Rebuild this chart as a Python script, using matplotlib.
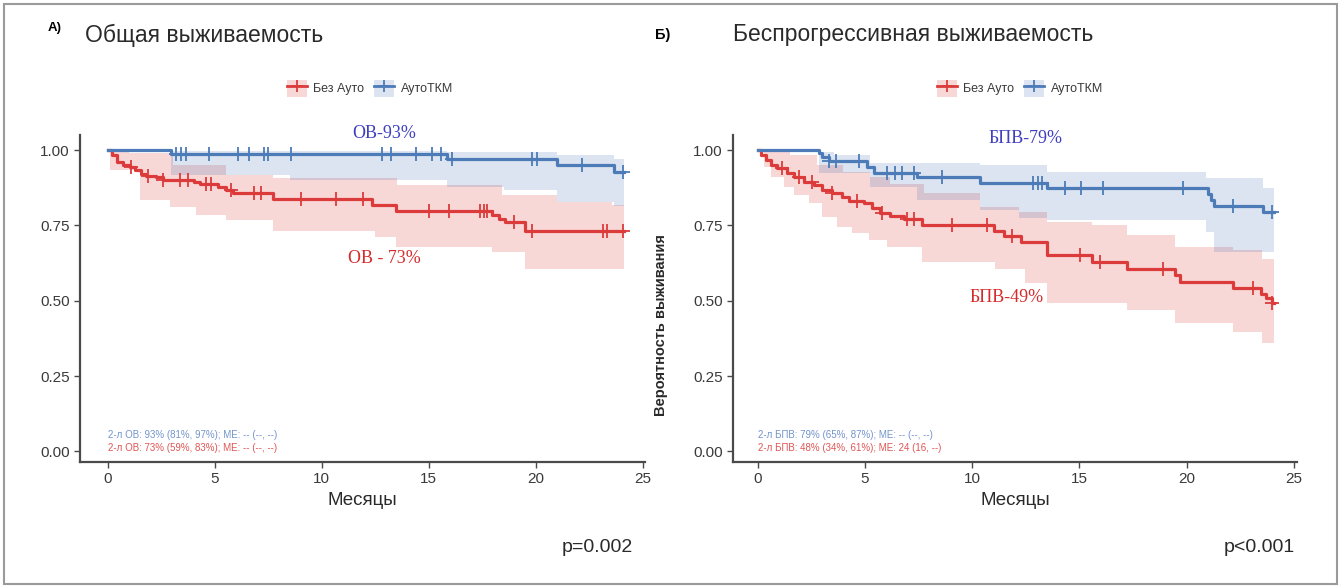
"""Kaplan-Meier curves: overall and progression-free survival, AutoTKM vs no Auto."""

import numpy as np
import matplotlib
matplotlib.use("Agg")
import matplotlib.pyplot as plt
from matplotlib.lines import Line2D
from matplotlib.patches import Patch, Rectangle

plt.rcParams["font.family"] = ["Liberation Sans", "DejaVu Sans"]

RED = "#DC3B3B"
BLUE = "#4C7BB8"
GROUPS = ["Без Ауто", "АутоТКМ"]

# --- A) overall survival -------------------------------------------------
os_ref_t = [0, 0.2, 0.45, 0.7, 1.03, 1.26, 1.57, 1.8, 2.27, 2.58, 4.05, 4.29, 4.9, 5.14,
            5.53, 5.84, 7.7, 12.36, 13.45, 17.95, 18.27, 18.58, 19.51, 24.1]
os_ref_s = [1.0, 0.983, 0.961, 0.95, 0.944, 0.933, 0.922, 0.913, 0.909, 0.902, 0.894, 0.889,
            0.886, 0.878, 0.869, 0.856, 0.836, 0.817, 0.798, 0.783, 0.772, 0.761, 0.733, 0.733]
os_ref_cens = [1.1, 1.88, 2.58, 3.36, 3.74, 4.6, 4.83, 5.76, 6.85, 7.16, 9.02, 10.66, 11.9,
               15.0, 15.94, 17.41, 17.57, 17.72, 18.97, 19.82, 23.16, 23.31, 24.09]
os_ref_lo_t = [0, 0.1, 1.49, 2.89, 4.14, 5.53, 7.71, 12.5, 13.45, 17.95, 19.51, 24.1]
os_ref_lo = [1.0, 0.933, 0.833, 0.811, 0.783, 0.767, 0.733, 0.711, 0.678, 0.661, 0.606, 0.606]
os_ref_hi_t = [0, 1.0, 3.04, 5.53, 7.71, 13.53, 18.43, 20.99, 23.55, 24.1]
os_ref_hi = [1.0, 0.99, 0.95, 0.917, 0.906, 0.883, 0.85, 0.828, 0.817, 0.817]

os_auto_t = [0, 2.97, 15.86, 20.98, 23.63, 24.1]
os_auto_s = [1.0, 0.987, 0.969, 0.95, 0.928, 0.928]
os_auto_cens = [3.17, 3.43, 3.63, 4.72, 6.07, 6.58, 7.28, 7.47, 8.56, 12.83, 13.22, 14.38,
                15.16, 15.55, 16.09, 19.82, 20.05, 22.15, 24.09]
os_auto_lo_t = [0, 2.97, 8.5, 15.86, 18.5, 20.98, 23.63, 24.1]
os_auto_lo = [1.0, 0.917, 0.90, 0.878, 0.867, 0.828, 0.815, 0.815]
os_auto_hi_t = [0, 2.97, 15.86, 20.98, 23.63, 24.1]
os_auto_hi = [1.0, 0.998, 0.995, 0.985, 0.97, 0.97]

# --- Б) progression-free survival ----------------------------------------
pfs_ref_t = [0, 0.15, 0.37, 0.6, 0.91, 1.38, 1.69, 2.15, 2.62, 3.01, 3.47, 3.94, 4.25, 4.95,
             5.33, 5.72, 6.19, 6.81, 7.66, 11.0, 11.5, 12.3, 13.47, 15.57, 17.2, 19.44, 19.7,
             22.15, 23.47, 23.7, 24.0, 24.1]
pfs_ref_s = [1.0, 0.983, 0.967, 0.95, 0.939, 0.923, 0.912, 0.895, 0.884, 0.867, 0.858, 0.845,
             0.832, 0.823, 0.807, 0.792, 0.781, 0.77, 0.751, 0.732, 0.715, 0.696, 0.652, 0.629,
             0.607, 0.585, 0.563, 0.541, 0.524, 0.508, 0.491, 0.491]
pfs_ref_cens = [1.15, 1.92, 2.54, 3.47, 4.64, 5.8, 6.96, 7.27, 9.05, 10.68, 11.85, 15.02,
                15.95, 18.9, 23.08, 24.0]
pfs_ref_lo_t = [0, 0.29, 0.6, 1.22, 1.69, 2.39, 3.01, 3.71, 4.4, 5.18, 6.03, 7.66, 11.07,
                12.47, 13.47, 17.2, 19.44, 22.15, 23.5, 24.1]
pfs_ref_lo = [1.0, 0.945, 0.912, 0.879, 0.851, 0.823, 0.779, 0.746, 0.724, 0.702, 0.679, 0.63,
              0.607, 0.558, 0.491, 0.469, 0.425, 0.397, 0.359, 0.359]
pfs_ref_hi_t = [0, 1.53, 2.77, 4.0, 5.26, 6.19, 7.74, 10.37, 12.2, 13.47, 15.57, 17.2, 19.44,
                22.15, 23.5, 24.1]
pfs_ref_hi = [1.0, 0.983, 0.95, 0.928, 0.912, 0.889, 0.856, 0.812, 0.795, 0.762, 0.751, 0.718,
              0.679, 0.668, 0.64, 0.64]

pfs_auto_t = [0, 2.85, 3.0, 3.32, 5.1, 5.41, 7.43, 10.37, 13.47, 21.0, 21.15, 21.3, 23.55, 24.1]
pfs_auto_s = [1.0, 0.989, 0.978, 0.965, 0.945, 0.925, 0.909, 0.892, 0.873, 0.855, 0.835,
              0.814, 0.795, 0.795]
pfs_auto_cens = [3.32, 3.63, 4.71, 6.03, 6.42, 6.73, 7.27, 8.59, 12.85, 13.09, 13.24, 14.33,
                 15.1, 16.1, 19.83, 22.15, 24.0]
pfs_auto_lo_t = [0, 2.85, 5.26, 7.43, 10.37, 12.2, 13.47, 20.9, 21.3, 24.1]
pfs_auto_lo = [1.0, 0.923, 0.879, 0.834, 0.80, 0.773, 0.768, 0.729, 0.663, 0.663]
pfs_auto_hi_t = [0, 2.85, 3.55, 5.26, 10.37, 13.47, 20.9, 23.55, 24.1]
pfs_auto_hi = [1.0, 0.995, 0.983, 0.956, 0.95, 0.928, 0.906, 0.873, 0.873]


def step_at(grid, times, vals):
    idx = np.searchsorted(times, grid, side="right") - 1
    return np.asarray(vals)[np.clip(idx, 0, len(vals) - 1)]


def draw_curve(ax, t, s, cens, lo_t, lo, hi_t, hi, color):
    grid = np.union1d(lo_t, hi_t)
    ax.fill_between(grid, step_at(grid, lo_t, lo), step_at(grid, hi_t, hi),
                    step="post", color=color, alpha=0.2, lw=0)
    ax.step(t, s, where="post", color=color, lw=2.3)
    cens = np.asarray(cens)
    ax.plot(cens, step_at(cens, t, s), ls="none", marker="+", ms=10, mew=1.3, color=color)


def style_axes(ax, xlim):
    ax.set_xlim(*xlim)
    ax.set_ylim(-0.035, 1.05)
    ax.set_xticks([0, 5, 10, 15, 20, 25])
    ax.set_yticks([0, 0.25, 0.5, 0.75, 1.0])
    ax.set_yticklabels(["0.00", "0.25", "0.50", "0.75", "1.00"])
    for side in ("top", "right"):
        ax.spines[side].set_visible(False)
    for side in ("left", "bottom"):
        ax.spines[side].set_color("#4a4a4a")
        ax.spines[side].set_linewidth(1.6)
    ax.tick_params(colors="#4a4a4a", labelcolor="#3a3a3a", labelsize=11, length=4, width=1)
    ax.set_xlabel("Месяцы", fontsize=13.5, color="#2a2a2a", labelpad=4)
    ax.set_facecolor("none")


def add_legend(fig, xc):
    handles = []
    for color in (RED, BLUE):
        handles.append((Patch(facecolor=color, alpha=0.2, lw=0),
                        Line2D([], [], color=color, lw=2, marker="+", ms=9, mew=1.3)))
    fig.legend(handles, GROUPS, loc="center", bbox_to_anchor=(xc, 0.85), ncol=2,
               frameon=False, fontsize=9, handlelength=1.6, handleheight=1.7,
               columnspacing=0.8, handletextpad=0.5, labelcolor="#3a3a3a")


fig = plt.figure(figsize=(13.41, 5.88), dpi=100)
ax1 = fig.add_axes([80 / 1341, 1 - 462 / 588, 565 / 1341, 327 / 588])
ax2 = fig.add_axes([733 / 1341, 1 - 462 / 588, 564 / 1341, 327 / 588])

draw_curve(ax1, os_ref_t, os_ref_s, os_ref_cens, os_ref_lo_t, os_ref_lo,
           os_ref_hi_t, os_ref_hi, RED)
draw_curve(ax1, os_auto_t, os_auto_s, os_auto_cens, os_auto_lo_t, os_auto_lo,
           os_auto_hi_t, os_auto_hi, BLUE)
draw_curve(ax2, pfs_ref_t, pfs_ref_s, pfs_ref_cens, pfs_ref_lo_t, pfs_ref_lo,
           pfs_ref_hi_t, pfs_ref_hi, RED)
draw_curve(ax2, pfs_auto_t, pfs_auto_s, pfs_auto_cens, pfs_auto_lo_t, pfs_auto_lo,
           pfs_auto_hi_t, pfs_auto_hi, BLUE)

style_axes(ax1, (-1.3, 25.1))
style_axes(ax2, (-1.15, 25.15))

serif = ["Liberation Serif", "DejaVu Serif"]
ax1.text(12.9, 1.055, "ОВ-93%", color="#3F3FBF", fontsize=13, family=serif, ha="center", va="center")
ax1.text(12.9, 0.64, "ОВ - 73%", color="#D42C2C", fontsize=13, family=serif, ha="center", va="center")
ax2.text(12.5, 1.04, "БПВ-79%", color="#3F3FBF", fontsize=13, family=serif, ha="center", va="center")
ax2.text(11.6, 0.51, "БПВ-49%", color="#D42C2C", fontsize=13, family=serif, ha="center", va="center")

ax1.text(0, 0.055, "2-л ОВ: 93% (81%, 97%); МЕ: -- (--, --)", color="#7394CC", fontsize=7, va="center")
ax1.text(0, 0.01, "2-л ОВ: 73% (59%, 83%); МЕ: -- (--, --)", color="#E05555", fontsize=7, va="center")
ax2.text(0, 0.055, "2-л БПВ: 79% (65%, 87%); МЕ: -- (--, --)", color="#7394CC", fontsize=7, va="center")
ax2.text(0, 0.01, "2-л БПВ: 48% (34%, 61%); МЕ: 24 (16, --)", color="#E05555", fontsize=7, va="center")

fig.text(661 / 1341, 1 - 325 / 588, "Вероятность выживания", rotation=90, fontsize=10.5,
         fontweight="bold", ha="center", va="center", color="#2a2a2a")

fig.text(48 / 1341, 1 - 28 / 588, "А)", fontsize=9.5, fontweight="bold", ha="left", va="center")
fig.text(85 / 1341, 1 - 35 / 588, "Общая выживаемость", fontsize=16.5, color="#2a2a2a",
         ha="left", va="center")
fig.text(655 / 1341, 1 - 35 / 588, "Б)", fontsize=10.5, fontweight="bold", ha="left", va="center")
fig.text(733 / 1341, 1 - 35 / 588, "Беспрогрессивная выживаемость", fontsize=16.5,
         color="#2a2a2a", ha="left", va="center")

fig.text(633 / 1341, 1 - 548 / 588, "p=0.002", fontsize=14, color="#2a2a2a", ha="right", va="center")
fig.text(1295 / 1341, 1 - 548 / 588, "p<0.001", fontsize=14, color="#2a2a2a", ha="right", va="center")

add_legend(fig, 370 / 1341)
add_legend(fig, 1020 / 1341)

fig.add_artist(Rectangle((4 / 1341, 4 / 588), 1 - 8 / 1341, 1 - 8 / 588, transform=fig.transFigure,
                         fill=False, ec="#9a9a9a", lw=1.5))

fig.savefig("out.png", dpi=100)
